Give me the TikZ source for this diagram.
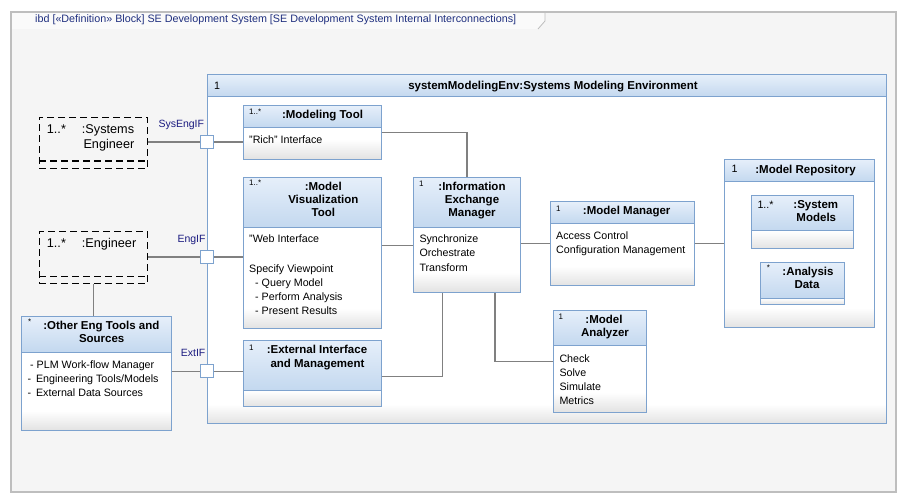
\documentclass[tikz,border=0pt]{standalone}
\usepackage{fontspec}
\setmainfont{Liberation Sans}
\definecolor{hdtop}{HTML}{E6EFFA}
\definecolor{hdbot}{HTML}{C3D8EF}
\definecolor{bord}{HTML}{7DA2CE}
\definecolor{bodybot}{HTML}{E2E2E2}
\definecolor{connc}{HTML}{808080}
\definecolor{lblc}{HTML}{1A1A80}
\definecolor{titc}{HTML}{1F2F7F}
\definecolor{framec}{HTML}{BEBEBE}
\definecolor{bgc}{HTML}{F5F5F5}
\definecolor{tabc}{HTML}{FAFAFA}
\tikzset{
  conn/.style={draw=connc, line width=1.1pt},
  port/.style={draw=bord, fill=white, line width=1pt, minimum size=13pt, inner sep=0pt},
  hdr/.style={font=\fontsize{11.5}{13}\selectfont\bfseries, anchor=base, inner sep=0pt},
  txt/.style={font=\fontsize{10.7}{13}\selectfont, anchor=base west, inner sep=0pt},
  mult/.style={font=\fontsize{8}{9}\selectfont, anchor=base west, inner sep=0pt},
  lbl/.style={text=lblc, font=\fontsize{10.5}{12}\selectfont, anchor=base west, inner sep=0pt},
  dtxt/.style={font=\fontsize{12.7}{15}\selectfont, anchor=base west, inner sep=0pt},
  dashbox/.style={draw=black, dash pattern=on 7pt off 4pt, line width=1.1pt},
}
\newcommand{\blk}[6]{%
  \fill[top color=hdtop, bottom color=hdbot] (#2,#3) rectangle (#4,#6);
  \fill[white] (#2,#6) rectangle (#4,#5);
  \fill[top color=white, bottom color=bodybot] (#2,{max(#6,#5-20)}) rectangle (#4,#5);
  \draw[bord, line width=1pt] (#2,#6) -- (#4,#6);
  \node[draw=bord, line width=1pt, inner sep=0pt, minimum width={(#4-#2)*1pt}, minimum height={(#5-#3)*1pt}] (#1) at ({(#2+#4)/2},{(#3+#5)/2}) {};
}
\newcommand{\dbox}[6]{%
  \node[dashbox, inner sep=0pt, minimum width={(#4-#2)*1pt}, minimum height={(#5-#3)*1pt}] (#1) at ({(#2+#4)/2},{(#3+#5)/2}) {};
  \draw[dashbox] (#2,#6) -- (#4,#6);
}
\newcommand{\tl}[4]{\node[txt] (#1) at (#2,{#3+4}) {#4};}
\newcommand{\hl}[4]{\node[hdr] (#1) at (#2,{#3+4}) {#4};}
\newcommand{\ml}[4]{\node[mult] (#1) at (#2,{#3+3}) {#4};}
\begin{document}
\begin{tikzpicture}[x=1pt,y=-1pt]
\useasboundingbox (0,0) rectangle (906,502);
\fill[white] (0,0) rectangle (906,502);
% frame
\fill[bgc] (11,12) rectangle (896,492);
\fill[tabc] (11,12) -- (545,12) -- (545,21) -- (538,29) -- (11,29) -- cycle;
\draw[framec, line width=0.8pt] (545,12) -- (545,21) -- (538,29);
\draw[framec, line width=1.5pt] (11,12) rectangle (896,492);
\node[anchor=base west, inner sep=0pt, text=titc, font=\fontsize{10.75}{12}\selectfont] (title) at (35,23) {ibd [«Definition» Block] SE Development System [SE Development System Internal Interconnections]};

% big block
\blk{env}{207}{75}{886}{424}{97}
\tl{envm}{214}{86}{1}
\hl{envh}{553}{86}{systemModelingEnv:Systems Modeling Environment}

% blocks
\blk{mt}{243.3}{105.7}{381.7}{159.3}{127.3}
\ml{mtm}{249}{112}{1..*}
\hl{mth}{322.5}{115}{:Modeling Tool}
\tl{mt1}{249}{139.3}{"Rich" Interface}

\blk{mvt}{243.3}{177.3}{381.7}{328.3}{227.3}
\ml{mvtm}{249}{183}{1..*}
\hl{mvth1}{323.3}{186.7}{:Model}
\hl{mvth2}{323.3}{200}{Visualization}
\hl{mvth3}{323.3}{213}{Tool}
\tl{mvt1}{249}{239}{"Web Interface}
\tl{mvt2}{249}{268.3}{Specify Viewpoint}
\tl{mvt3}{255}{282.3}{- Query Model}
\tl{mvt4}{255}{296.3}{- Perform Analysis}
\tl{mvt5}{255}{310.3}{- Present Results}

\blk{iem}{413.3}{177.3}{520.7}{292.3}{227.3}
\ml{iemm}{419}{184}{1}
\hl{iemh1}{472}{187}{:Information}
\hl{iemh2}{472}{200}{Exchange}
\hl{iemh3}{472}{213}{Manager}
\tl{iem1}{419.3}{239}{Synchronize}
\tl{iem2}{419.3}{253}{Orchestrate}
\tl{iem3}{419.3}{268}{Transform}

\blk{eim}{243.3}{340.7}{381.7}{406.7}{390.7}
\ml{eimm}{249}{348}{1}
\hl{eimh1}{317}{350}{:External Interface}
\hl{eimh2}{317.5}{363.3}{and Management}

\blk{mm}{550}{201.7}{694.3}{286}{223.3}
\ml{mmm}{556}{209}{1}
\hl{mmh}{626.7}{211}{:Model Manager}
\tl{mm1}{556}{235.3}{Access Control}
\tl{mm2}{556}{249.3}{Configuration Management}

\blk{mr}{724.3}{159.3}{874.3}{327.7}{181.7}
\tl{mrm}{731.5}{169}{1}
\hl{mrh}{805.5}{169.3}{:Model Repository}

\blk{sm}{751.7}{195.7}{853.3}{249}{231}
\tl{smm}{757.3}{205}{1..*}
\hl{smh1}{815.8}{205}{:System}
\hl{smh2}{816.3}{218}{Models}

\blk{ad}{760.7}{262.3}{844.3}{305}{298.3}
\ml{adm}{766.7}{268}{*}
\hl{adh1}{808}{272}{:Analysis}
\hl{adh2}{807}{285}{Data}

\blk{ma}{553.3}{310.3}{646.7}{412.3}{346}
\ml{mam}{558.5}{317}{1}
\hl{mah1}{604}{320}{:Model}
\hl{mah2}{605}{333}{Analyzer}
\tl{ma1}{559.3}{358.3}{Check}
\tl{ma2}{559.3}{372.3}{Solve}
\tl{ma3}{559.3}{386.3}{Simulate}
\tl{ma4}{559.3}{400.3}{Metrics}

\blk{oet}{21.7}{316.7}{171.7}{430.7}{352.3}
\ml{oetm}{28}{322}{*}
\hl{oeth1}{101.3}{326}{:Other Eng Tools and}
\hl{oeth2}{101.7}{338.3}{Sources}
\tl{oet1}{30}{364.3}{- PLM Work-flow Manager}
\tl{oet2}{27.3}{378.3}{-\hspace{5pt}Engineering Tools/Models}
\tl{oet3}{27.3}{392.3}{-\hspace{5pt}External Data Sources}

% dashed actor boxes
\dbox{se}{39.3}{117.3}{147.7}{168.3}{161}
\node[dtxt] (sem) at (46.7,{129+4.5}) {1..*};
\node[dtxt] (se1) at (81.7,{129+4.5}) {:Systems};
\node[dtxt] (se2) at (83.3,{144.3+4.5}) {Engineer};

\dbox{eng}{39.3}{231.7}{147.7}{283.3}{276.7}
\node[dtxt] (engm) at (46.7,{243+4.5}) {1..*};
\node[dtxt] (eng1) at (81.7,{243+4.5}) {:Engineer};

% ports
\node[port] (pSE) at (207,142) {};
\node[port] (pEng) at (207,257) {};
\node[port] (pExt) at (207,371.5) {};
\node[lbl] (lSE) at (158.3,128) {SysEngIF};
\node[lbl] (lEng) at (177.3,243) {EngIF};
\node[lbl] (lExt) at (180.7,356.3) {ExtIF};

% connectors
\draw[conn] (pSE.west) -- (pSE.west -| se.east);
\draw[conn] (pSE.east) -- (pSE.east -| mt.west);
\draw[conn] (pEng.west) -- (pEng.west -| eng.east);
\draw[conn] (pEng.east) -- (pEng.east -| mvt.west);
\draw[conn] (pExt.west) -- (pExt.west -| oet.east);
\draw[conn] (pExt.east) -- (pExt.east -| eim.west);
\draw[conn] (eng.south) -- (oet.north -| eng.south);
\draw[conn] (mt.east) -| (iem.north);
\draw[conn] ([yshift=-11pt]iem.west) -- ([yshift=-11pt]iem.west -| mvt.east);
\draw[conn] (mm.west) -- (mm.west -| iem.east);
\draw[conn] (mm.east) -- (mm.east -| mr.west);
\draw[conn] ([yshift=-3pt]eim.east) -| ([xshift=-24.3pt]iem.south);
\draw[conn] ([xshift=28pt]iem.south) |- (ma.west);
\end{tikzpicture}
\end{document}
